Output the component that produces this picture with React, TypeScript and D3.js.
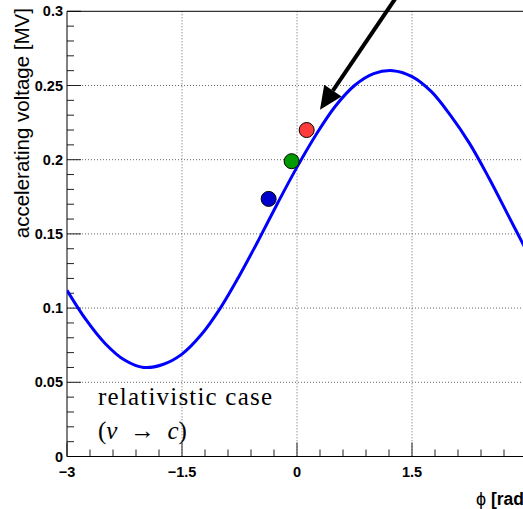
import React from "react";
import * as d3 from "d3";

const phiSamples = [-3, -2.75, -2.5, -2.25, -2, -1.75, -1.5, -1.25, -1, -0.75, -0.5, -0.25, 0, 0.25, 0.5, 0.75, 1, 1.25, 1.5, 1.75, 2, 2.25, 2.5, 2.75, 3];
const voltageSamples = [0.112, 0.092, 0.076, 0.065, 0.06, 0.062, 0.069, 0.082, 0.1, 0.122, 0.146, 0.171, 0.195, 0.217, 0.236, 0.25, 0.258, 0.26, 0.256, 0.246, 0.23, 0.211, 0.188, 0.163, 0.138];

// Markers
const markerPhi = [-0.37, -0.07, 0.126];
const markerVoltage = [0.1736, 0.199, 0.22];
const markerColors = ["#0000cc", "#009900", "#ff3b3b"];

// Arrow annotation (data coords)
const arrowTail = [1.38, 0.316];
const arrowTip = [0.3, 0.2337];

// Axes
const xMajorTicks = [-3, -1.5, 0, 1.5, 3];
const xLabelTicks = [-3, -1.5, 0, 1.5];
const xTickLabels = ["\u22123", "\u22121.5", "0", "1.5"];
const yMajorTicks = [0, 0.05, 0.1, 0.15, 0.2, 0.25, 0.3];
const yTickLabels = ["0", "0.05", "0.1", "0.15", "0.2", "0.25", "0.3"];

const W = 523;
const H = 509;
const left = 67;
const right = 527;
const top = 11.3;
const bottom = 456.5;

export default function App() {
  const x = d3.scaleLinear().domain([-3, 3]).range([left, right]);
  const y = d3.scaleLinear().domain([0, 0.3]).range([bottom, top]);

  const pts: [number, number][] = phiSamples.map((p, i) => [p, voltageSamples[i]]);
  const line = d3
    .line<[number, number]>()
    .x((d) => x(d[0]))
    .y((d) => y(d[1]))
    .curve(d3.curveCatmullRom.alpha(0.5));

  const xMinor = d3.range(-3, 3.0001, 0.3).map((v) => +v.toFixed(3));
  const yMinor = d3.range(0, 0.3001, 0.01).map((v) => +v.toFixed(3));

  // arrow geometry
  const tx = x(arrowTail[0]);
  const ty = y(arrowTail[1]);
  const hx = x(arrowTip[0]);
  const hy = y(arrowTip[1]);
  const dx = tx - hx;
  const dy = ty - hy;
  const len = Math.sqrt(dx * dx + dy * dy);
  const ux = dx / len;
  const uy = dy / len;
  const headLen = 23;
  const headHalf = 10.5;
  const bx = hx + ux * headLen;
  const by = hy + uy * headLen;
  const head = [
    [hx, hy],
    [bx - uy * headHalf, by + ux * headHalf],
    [bx + uy * headHalf, by - ux * headHalf],
  ];

  const tickFont = "'Liberation Sans', Arial, Helvetica, sans-serif";
  const serif = "'Liberation Serif', 'Times New Roman', serif";

  return (
    <svg
      width={W}
      height={H}
      style={{ position: "absolute", left: 0, top: 0, background: "#fff" }}
    >
      <defs>
        <clipPath id="plotclip">
          <rect x={left} y={top} width={right - left} height={bottom - top} />
        </clipPath>
      </defs>
      <rect x={0} y={0} width={W} height={H} fill="#fff" />

      {/* grid */}
      {xMajorTicks.slice(1, -1).map((t) => (
        <line key={"gx" + t} x1={x(t)} x2={x(t)} y1={top} y2={bottom} stroke="#666" strokeWidth={1} strokeDasharray="1 2" />
      ))}
      {yMajorTicks.slice(1, -1).map((t) => (
        <line key={"gy" + t} x1={left} x2={right} y1={y(t)} y2={y(t)} stroke="#666" strokeWidth={1} strokeDasharray="1 2" />
      ))}

      {/* ticks */}
      {xMinor.map((t) => {
        const major = xMajorTicks.some((m) => Math.abs(m - t) < 1e-6);
        return (
          <line key={"tx" + t} x1={x(t)} x2={x(t)} y1={bottom} y2={bottom - (major ? 14 : 7)} stroke="#222" strokeWidth={1} />
        );
      })}
      {yMinor.map((t) => {
        const major = yMajorTicks.some((m) => Math.abs(m - t) < 1e-6);
        return (
          <line key={"ty" + t} x1={left} x2={left + (major ? 14 : 7)} y1={y(t)} y2={y(t)} stroke="#222" strokeWidth={1} />
        );
      })}

      {/* frame */}
      <line x1={left} x2={left} y1={top} y2={bottom} stroke="#000" strokeWidth={1} />
      <line x1={left} x2={right} y1={bottom} y2={bottom} stroke="#000" strokeWidth={1} />
      <line x1={left} x2={right} y1={top} y2={top} stroke="#000" strokeWidth={1} />

      {/* curve */}
      <path d={line(pts) || ""} fill="none" stroke="#0000ff" strokeWidth={3} clipPath="url(#plotclip)" />

      {/* markers */}
      {markerPhi.map((p, i) => (
        <circle key={"m" + i} cx={x(p)} cy={y(markerVoltage[i])} r={7.5} fill={markerColors[i]} stroke="#000" strokeWidth={1} />
      ))}

      {/* arrow */}
      <line x1={tx} y1={ty} x2={bx} y2={by} stroke="#000" strokeWidth={4} />
      <polygon points={head.map((p) => p.join(",")).join(" ")} fill="#000" />

      {/* tick labels */}
      {xLabelTicks.map((t, i) => (
        <text key={"xl" + t} x={x(t)} y={477} textAnchor="middle" fontFamily={tickFont} fontWeight="bold" fontSize={14.5} fill="#000">
          {xTickLabels[i]}
        </text>
      ))}
      {yMajorTicks.map((t, i) => (
        <text key={"yl" + t} x={63} y={y(t) + 5} textAnchor="end" fontFamily={tickFont} fontWeight="bold" fontSize={14.5} fill="#000">
          {yTickLabels[i]}
        </text>
      ))}

      {/* axis titles */}
      <text
        transform="translate(29,8) rotate(-90)"
        textAnchor="end"
        fontFamily={tickFont}
        fontSize={20.5}
        fill="#000"
      >
        accelerating voltage [MV]
      </text>
      <text x={476} y={505} fontFamily={tickFont} fontWeight="bold" fontSize={17.5} fill="#000">
        <tspan fontWeight="normal" fontSize={18}>{"\u03d5"}</tspan> [rad]
      </text>

      {/* annotation */}
      <text x={98} y={405} fontFamily={serif} fontSize={25} letterSpacing={1.2} fill="#000">
        relativistic case
      </text>
      <text x={98} y={439} fontFamily={serif} fontSize={25} fill="#000" style={{ whiteSpace: "pre" }}>
        (<tspan fontStyle="italic">v</tspan>{"  \u2192  "}<tspan fontStyle="italic">c</tspan>)
      </text>
    </svg>
  );
}
